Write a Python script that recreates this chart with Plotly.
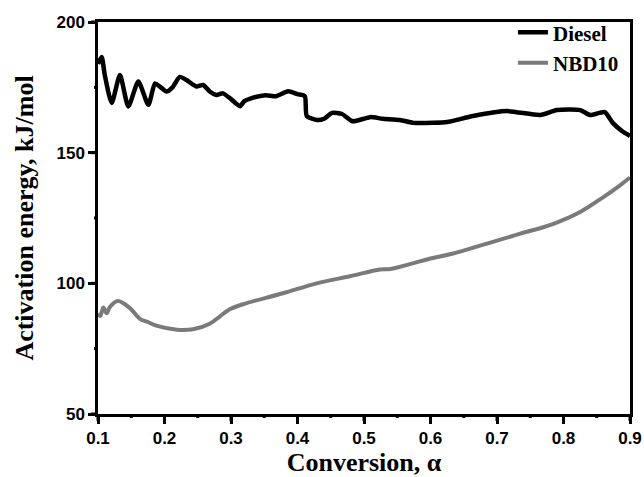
import plotly.graph_objects as go

diesel_alpha = [0.100, 0.1055, 0.110, 0.1206, 0.133, 0.1456, 0.1606, 0.1757, 0.1857, 0.193,
                0.203, 0.212, 0.223, 0.233, 0.248, 0.258, 0.268, 0.278, 0.288, 0.300,
                0.3135, 0.320, 0.330, 0.352, 0.368, 0.386, 0.400, 0.411, 0.414, 0.430,
                0.440, 0.452, 0.467, 0.483, 0.509, 0.528, 0.554, 0.574, 0.604, 0.625,
                0.664, 0.715, 0.765, 0.790, 0.825, 0.840, 0.862, 0.874, 0.888, 0.900]
diesel_E = [184.0, 186.6, 180.0, 169.0, 179.7, 167.7, 177.2, 168.3, 176.5, 175.3,
            173.4, 175.0, 179.0, 177.8, 175.3, 175.9, 173.4, 172.1, 172.7, 170.5,
            167.8, 169.7, 170.8, 172.0, 171.6, 173.5, 172.4, 171.6, 164.0, 162.5,
            163.0, 165.2, 164.8, 162.0, 163.6, 163.0, 162.5, 161.4, 161.4, 161.7,
            164.0, 165.9, 164.4, 166.3, 166.3, 164.4, 165.5, 161.4, 158.3, 156.4]

nbd_alpha = [0.100, 0.1035, 0.108, 0.113, 0.118, 0.130, 0.148, 0.163, 0.174, 0.189,
             0.219, 0.243, 0.268, 0.283, 0.294, 0.300, 0.318, 0.378, 0.429, 0.479,
             0.524, 0.540, 0.600, 0.634, 0.685, 0.735, 0.784, 0.825, 0.860, 0.885, 0.900]
nbd_E = [88.5, 87.5, 90.8, 88.6, 91.0, 93.2, 90.5, 86.4, 85.3, 83.7,
         82.2, 82.4, 84.5, 87.3, 89.4, 90.3, 92.0, 96.2, 100.0, 102.7,
         105.3, 105.5, 109.5, 111.4, 115.2, 119.0, 122.7, 127.3, 133.0, 137.5, 140.5]

x_ticks = [0.1, 0.2, 0.3, 0.4, 0.5, 0.6, 0.7, 0.8, 0.9]
x_ticklabels = ["0.1", "0.2", "0.3", "0.4", "0.5", "0.6", "0.7", "0.8", "0.9"]
x_minor = [0.15, 0.25, 0.35, 0.45, 0.55, 0.65, 0.75, 0.85]
y_ticks = [50, 100, 150, 200]
y_ticklabels = ["50", "100", "150", "200"]
y_minor = [75, 125, 175]
x_range = [0.1, 0.9]
y_range = [50, 200]

W, H = 644, 477
M = dict(l=98, r=14, t=18, b=63)
plot_w = W - M["l"] - M["r"]
plot_h = H - M["t"] - M["b"]
MAJ, MIN = 7, 4  # tick lengths in px


def xfrac(v):
    return (v - x_range[0]) / (x_range[1] - x_range[0])


def yfrac(v):
    return (v - y_range[0]) / (y_range[1] - y_range[0])


fig = go.Figure()
fig.add_trace(go.Scatter(x=diesel_alpha, y=diesel_E, mode="lines", name="Diesel",
                         line=dict(color="black", width=4.5, shape="spline", smoothing=0.6)))
fig.add_trace(go.Scatter(x=nbd_alpha, y=nbd_E, mode="lines", name="NBD10",
                         line=dict(color="#7a7a7a", width=4, shape="spline", smoothing=1.0)))

# axis tick marks (decorations), positioned from the axis ranges
for v in x_ticks + x_minor:
    L = MAJ if v in x_ticks else MIN
    fig.add_shape(type="line", xref="paper", yref="paper", x0=xfrac(v), x1=xfrac(v),
                  y0=0, y1=-L / plot_h, line=dict(color="black", width=3), layer="above")
for v in y_ticks + y_minor:
    L = MAJ if v in y_ticks else MIN
    fig.add_shape(type="line", xref="paper", yref="paper", x0=0, x1=-L / plot_w,
                  y0=yfrac(v), y1=yfrac(v), line=dict(color="black", width=3), layer="above")

tickfont = dict(family="Liberation Sans, Arial, sans-serif", size=17, color="black")
titlefont = dict(family="Liberation Serif, Times New Roman, serif", size=26, color="black", weight="bold")

fig.update_layout(
    template="none",
    width=W, height=H,
    margin=M,
    paper_bgcolor="white", plot_bgcolor="white",
    showlegend=True,
    legend=dict(x=0.78, y=1.025, xanchor="left", yanchor="top",
                font=dict(family="Liberation Serif, Times New Roman, serif", size=21,
                          color="black", weight="bold"),
                bgcolor="rgba(0,0,0,0)", tracegroupgap=0, itemwidth=30),
    xaxis=dict(range=x_range, tickmode="array", tickvals=x_ticks,
               ticktext=["<b>" + t + "</b>" for t in x_ticklabels],
               ticks="outside", ticklen=MAJ, tickwidth=3, tickcolor="black",
               showline=True, linewidth=2.5, linecolor="black", mirror=True,
               showgrid=False, zeroline=False, tickfont=tickfont,
               title=dict(text="Conversion, α", font=titlefont, standoff=8)),
    yaxis=dict(range=y_range, tickmode="array", tickvals=y_ticks,
               ticktext=["<b>" + t + "</b>" for t in y_ticklabels],
               ticks="outside", ticklen=MAJ, tickwidth=3, tickcolor="black",
               showline=True, linewidth=2.5, linecolor="black", mirror=True,
               showgrid=False, zeroline=False, tickfont=tickfont,
               title=dict(text="Activation energy, kJ/mol", font=titlefont, standoff=16)),
)

fig.write_html("out.html")
